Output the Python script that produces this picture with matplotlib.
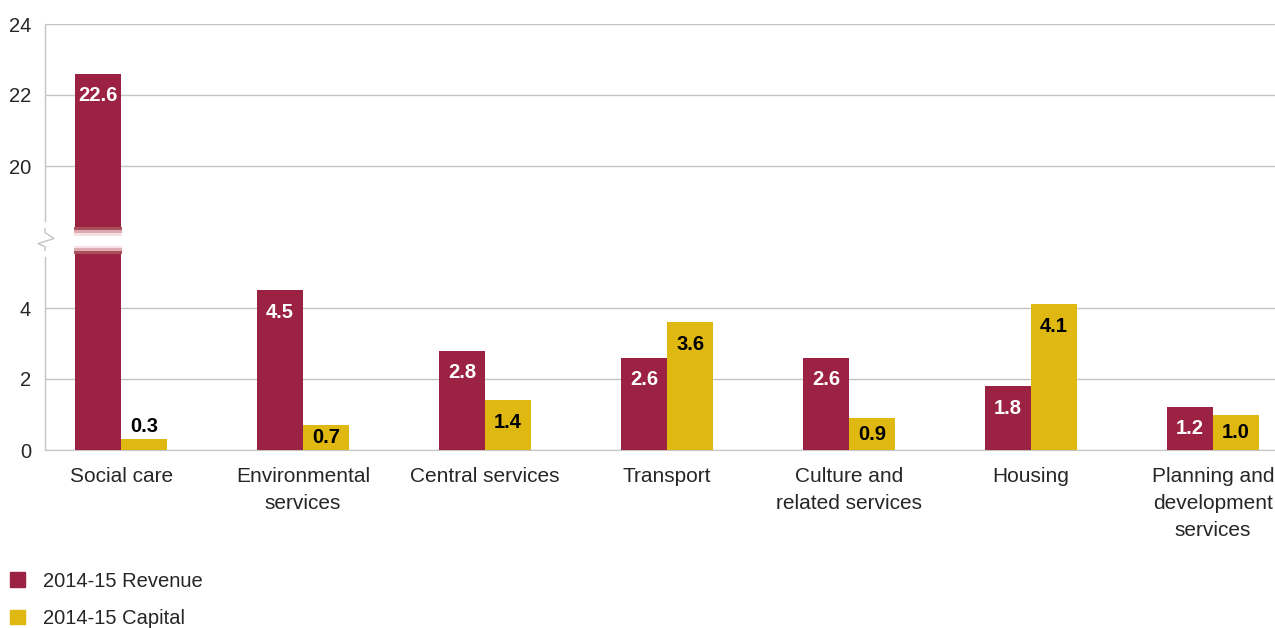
import numpy as np
from matplotlib import pyplot as plt
from matplotlib.patches import Patch

plt.rcParams['font.family'] = ['Liberation Sans', 'DejaVu Sans']

categories = ["Social care", "Environmental\nservices", "Central services", "Transport",
              "Culture and\nrelated services", "Housing", "Planning and\ndevelopment\nservices"]
revenue = [22.6, 4.5, 2.8, 2.6, 2.6, 1.8, 1.2]
capital = [0.3, 0.7, 1.4, 3.6, 0.9, 4.1, 1.0]
series_names = ["2014-15 Revenue", "2014-15 Capital"]
tick_values = [0, 2, 4, 20, 22, 24]

red = "#9B2242"
gold = "#DFB812"
text_c = "#262626"
grid_c = "#c4c4c4"

# y axis is cut between these two values
cut_lo, cut_hi = 6, 18
cut_mid = 5.9

def squash(v):
    v = np.asarray(v, dtype=float)
    return np.where(v > cut_lo, v - (cut_hi - cut_lo), v)

fig = plt.figure(figsize=(12.75, 6.28), dpi=100)
ax = fig.add_axes([45/1275, 1 - 450/628, 1 - 45/1275, (450 - 24)/628])

x = np.arange(len(categories))
w = 0.253
ax.set_xlim(-0.418, 6.34)
ax.set_ylim(0, 12)

rev_h = squash(revenue)
cap_h = squash(capital)
ax.bar(x - w/2, rev_h, w, color=red, zorder=3)
ax.bar(x + w/2, cap_h, w, color=gold, zorder=3)

# break band across the tall bar
for i, v in enumerate(revenue):
    if v > cut_hi:
        x0, x1 = x[i] - w - 0.006, x[i] + 0.006
        for half, col in [(0.37, "#A9505F"), (0.29, "#DDAAB2"), (0.22, "#F6E0E3"), (0.14, "white")]:
            ax.fill_between([x0, x1], cut_mid - half, cut_mid + half, color=col, lw=0, zorder=4)

# value labels
u = 0.62
for xs, hs, vals, col in [(x - w/2, rev_h, revenue, "white"), (x + w/2, cap_h, capital, "black")]:
    for xi, h, v in zip(xs, hs, vals):
        if v < 0.5:
            y = h + 0.37
            c = "black"
        else:
            y = max(h - u, h / 2)
            c = col
        ax.text(xi, y, f"{v:.1f}", ha="center", va="center", color=c,
                fontsize=14.5, fontweight="bold", zorder=5)

ax.set_yticks(squash(tick_values))
ax.set_yticklabels([str(t) for t in tick_values], fontsize=14.5, color=text_c)
ax.yaxis.grid(True, color=grid_c, lw=1)
ax.set_axisbelow(True)
ax.tick_params(axis="y", length=0, pad=10)

ax.set_xticks(x)
ax.set_xticklabels(categories, fontsize=15, color=text_c, linespacing=1.55, va="top")
ax.tick_params(axis="x", length=0, pad=12)

for s in ["top", "right", "left"]:
    ax.spines[s].set_visible(False)
ax.spines["bottom"].set_color(grid_c)

# left axis line with zigzag break
tr = ax.get_yaxis_transform()
px = 1 / 1230
py = 1 / 35.5
ax.plot([0, 0], [0, cut_mid - 16*py], color=grid_c, lw=1, transform=tr, clip_on=False)
ax.plot([0, 0], [cut_mid + 20*py, 12], color=grid_c, lw=1, transform=tr, clip_on=False)
zx = np.array([0, 0, 9, -7, 0, 0]) * px
zy = cut_mid + np.array([12, 8, 2, -3, -6, -10]) * py
ax.plot(zx, zy, color=grid_c, lw=1, transform=tr, clip_on=False)

handles = [Patch(color=red), Patch(color=gold)]
fig.legend(handles, series_names, loc="lower left", bbox_to_anchor=(0.0, -0.016),
           frameon=False, fontsize=14.5, handlelength=0.75, handleheight=0.75,
           handletextpad=0.9, labelspacing=0.9, borderaxespad=0.1,
           labelcolor=text_c)

fig.savefig("out.png", dpi=100)
